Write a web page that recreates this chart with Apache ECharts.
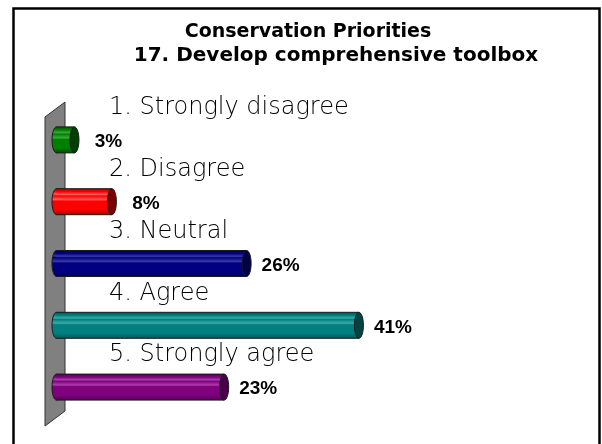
<!DOCTYPE html>
<html>
<head>
<meta charset="utf-8">
<script src="https://cdn.jsdelivr.net/npm/echarts@6/dist/echarts.min.js"></script>
<style>
  html, body { margin: 0; padding: 0; background: #fff; }
  #chart { width: 602px; height: 444px; }
</style>
</head>
<body>
<div id="chart"></div>
<script>
// 数据
var categories = ['1. Strongly disagree', '2. Disagree', '3. Neutral', '4. Agree', '5. Strongly agree'];
var percents = [3, 8, 26, 41, 23];
var valueLabels = ['3%', '8%', '26%', '41%', '23%'];
var titleLines = ['Conservation Priorities', '17. Develop comprehensive toolbox'];

// 圆柱颜色：主体、高光、暗部、端面
var palette = [
  { base: '#008000', light: '#3aa83a', dark: '#005000', cap: '#004000' },
  { base: '#ff0000', light: '#ff5a5a', dark: '#b00000', cap: '#7a0000' },
  { base: '#000080', light: '#3a3aa8', dark: '#00005a', cap: '#000048' },
  { base: '#008080', light: '#40a8a8', dark: '#005858', cap: '#004444' },
  { base: '#800080', light: '#a840a8', dark: '#580058', cap: '#480048' }
];

var chart = echarts.init(document.getElementById('chart'));

function renderCylinder(params, api) {
  var idx = api.value(1);
  var start = api.coord([0, idx]);
  var end = api.coord([api.value(0), idx]);
  var h = 26, rx = 4.5;
  var cy = start[1];
  var c = palette[idx];
  var body = new echarts.graphic.LinearGradient(0, 0, 0, 1, [
    { offset: 0, color: c.dark },
    { offset: 0.12, color: c.base },
    { offset: 0.22, color: c.light },
    { offset: 0.28, color: c.base },
    { offset: 0.42, color: c.light },
    { offset: 0.48, color: c.base },
    { offset: 0.8, color: c.base },
    { offset: 1, color: c.dark }
  ]);
  return {
    type: 'group',
    children: [
      {
        type: 'ellipse',
        shape: { cx: start[0] + rx, cy: cy, rx: rx, ry: h / 2 },
        style: { fill: body, stroke: '#1a1a1a', lineWidth: 1 }
      },
      {
        type: 'rect',
        shape: { x: start[0] + rx, y: cy - h / 2, width: end[0] - start[0] - rx, height: h },
        style: { fill: body, stroke: null }
      },
      {
        type: 'polyline',
        shape: { points: [[start[0] + rx, cy - h / 2], [end[0], cy - h / 2]] },
        style: { stroke: '#1a1a1a', lineWidth: 1 }
      },
      {
        type: 'polyline',
        shape: { points: [[start[0] + rx, cy + h / 2], [end[0], cy + h / 2]] },
        style: { stroke: '#1a1a1a', lineWidth: 1 }
      },
      {
        type: 'ellipse',
        shape: { cx: end[0], cy: cy, rx: rx, ry: h / 2 },
        style: { fill: c.cap, stroke: '#1a1a1a', lineWidth: 1 }
      },
      {
        type: 'text',
        x: start[0] + 57,
        y: cy - 32,
        style: {
          text: categories[idx],
          font: '200 24px "DejaVu Sans"',
          fill: '#000',
          verticalAlign: 'middle'
        }
      },
      {
        type: 'text',
        x: end[0] + 34,
        y: cy + 2,
        style: {
          text: valueLabels[idx],
          font: 'bold 19px "Liberation Sans"',
          fill: '#000',
          align: 'center',
          verticalAlign: 'middle'
        }
      }
    ]
  };
}

var option = {
  backgroundColor: '#fff',
  animation: false,
  grid: { left: 52, right: 26, top: 109, bottom: 26 },
  xAxis: { type: 'value', min: 0, max: 70, show: false },
  yAxis: { type: 'category', data: categories, inverse: true, show: false },
  graphic: [
    // 外框
    {
      type: 'rect',
      shape: { x: 13.5, y: 8.5, width: 586, height: 460 },
      style: { fill: null, stroke: '#000', lineWidth: 2.5 },
      z: 1
    },
    // 左侧灰色墙
    {
      type: 'polygon',
      shape: { points: [[45, 117], [65, 102], [65, 411], [45, 426]] },
      style: { fill: '#808080', stroke: '#333', lineWidth: 1 },
      z: 1
    },
    {
      type: 'text', x: 308, y: 32,
      style: { text: titleLines[0], font: 'bold 19px "DejaVu Sans"', fill: '#000', align: 'center', verticalAlign: 'middle' },
      z: 5
    },
    {
      type: 'text', x: 336, y: 56,
      style: { text: titleLines[1], font: 'bold 20px "DejaVu Sans"', fill: '#000', align: 'center', verticalAlign: 'middle' },
      z: 5
    }
  ],
  series: [
    {
      type: 'custom',
      renderItem: renderCylinder,
      encode: { x: 0, y: 1 },
      z: 10,
      data: percents.map(function (v, i) { return [v, i]; })
    }
  ]
};

option && chart.setOption(option);
</script>
</body>
</html>
